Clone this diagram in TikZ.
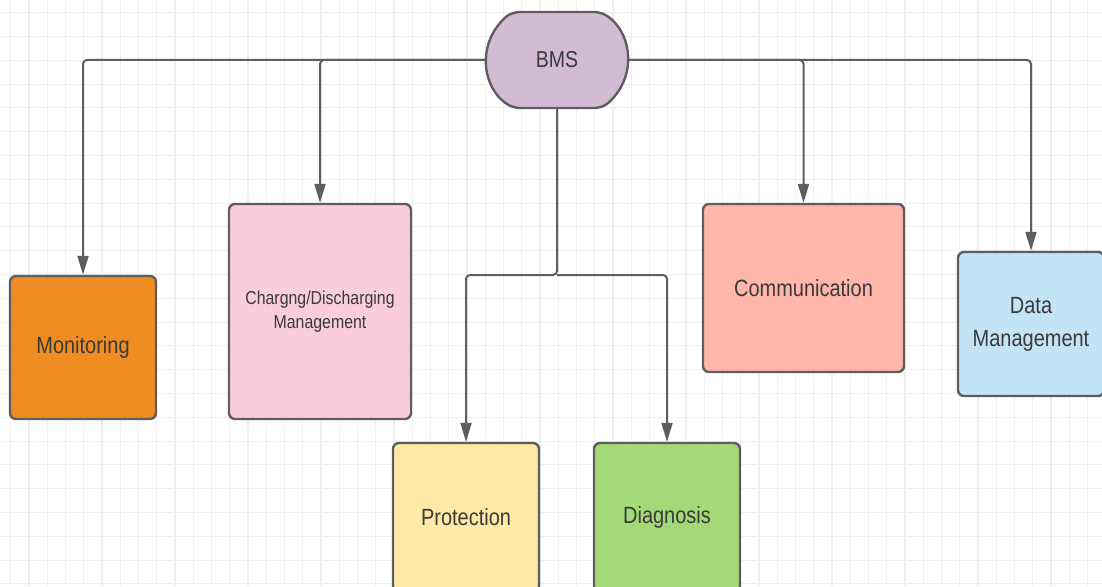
\documentclass[tikz,border=0pt]{standalone}
\usepackage{fontspec}
\setmainfont[FakeStretch=0.85]{Liberation Sans}
\usetikzlibrary{arrows.meta,shapes.misc,positioning}
\definecolor{lineGray}{HTML}{5E5E5E}
\definecolor{textGray}{HTML}{3A3A3A}
\definecolor{gridGray}{HTML}{EEEEEE}
\definecolor{bmsCol}{HTML}{D4BBD4}
\definecolor{monitorCol}{HTML}{EF8C22}
\definecolor{chargeCol}{HTML}{F9CEDA}
\definecolor{protectCol}{HTML}{FFE9A6}
\definecolor{diagCol}{HTML}{A3D977}
\definecolor{commCol}{HTML}{FFB6AB}
\definecolor{dataCol}{HTML}{C3E4F6}

\begin{document}
\begin{tikzpicture}[x=1pt,y=-1pt,
  box/.style={draw=lineGray, line width=2.4pt, rounded corners=6pt, text=textGray, align=center,
              inner sep=2pt, font=\fontsize{23.5}{33}\selectfont},
  conn/.style={draw=lineGray, line width=2pt, rounded corners=4pt, -{Triangle[length=19pt,width=11pt]}}]

\fill[white] (0,0) rectangle (1102,586);
\useasboundingbox (0,0) rectangle (1102,586);

% draw the grid
\foreach \i in {0,...,59}
  \draw[gridGray, line width=1.1pt] ({10.7+18.25*\i},0) -- ({10.7+18.25*\i},586);
\foreach \j in {0,...,24}
  \draw[gridGray, line width=1.1pt] (0,{12.7+23.8*\j}) -- (1102,{12.7+23.8*\j});

% the root
\node[box, shape=rounded rectangle, rounded rectangle arc length=120, fill=bmsCol,
      minimum width=146pt, minimum height=96pt, font=\fontsize{23}{28}\selectfont] (bms) at (557,60) {BMS};

% the function boxes
\node[box, fill=monitorCol, minimum width=146pt, minimum height=143pt] (mon) at (83,347.5) {Monitoring};
\node[box, fill=chargeCol, minimum width=182pt, minimum height=215pt,
      font=\fontsize{18.7}{24}\selectfont] (chg) at (320,311.5) {Chargng/Discharging\\Management};
\node[box, fill=protectCol, minimum width=146pt, minimum height=149pt] (prot) at (466,517.5) {Protection};
\node[box, fill=diagCol, minimum width=146pt, minimum height=149pt] (diag) at (667,517.5) {Diagnosis};
\node[box, fill=commCol, minimum width=201pt, minimum height=168pt] (comm) at (803.5,288) {Communication};
\node[box, fill=dataCol, minimum width=146pt, minimum height=144pt] (dat) at (1031,324) {Data\\Management};

% draw the connectors
\coordinate (split) at (557,275);
\draw[conn] (bms.west) -| (mon.north);
\draw[conn] (bms.west) -| (chg.north);
\draw[conn] (bms.east) -| (dat.north);
\draw[conn] (bms.east) -| (comm.north);
\draw[conn] (bms.south) -- (split) -| (prot.north);
\draw[conn] (split) -| (diag.north);

\end{tikzpicture}
\end{document}
